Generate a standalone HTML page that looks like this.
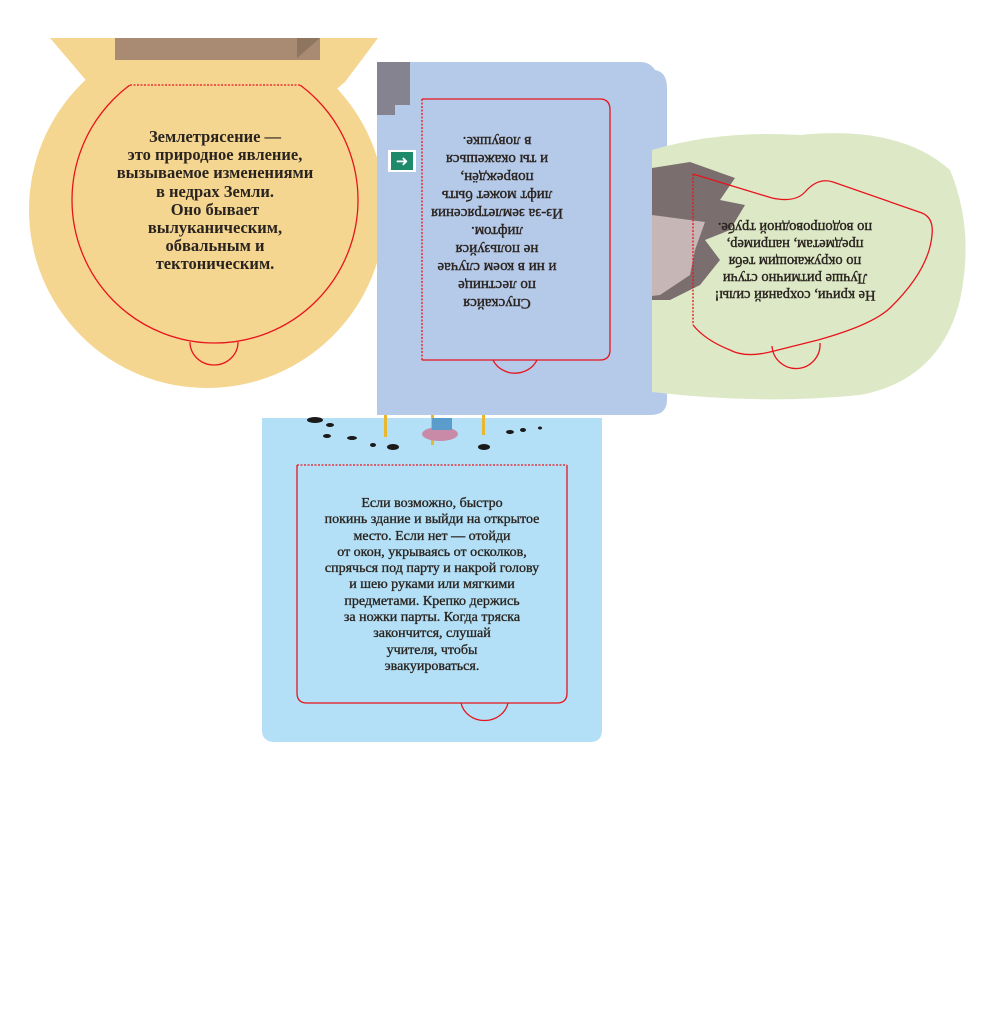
<!DOCTYPE html>
<html><head><meta charset="utf-8"><style>
html,body{margin:0;padding:0;background:#fff}
body{width:1000px;height:1031px;position:relative;overflow:hidden}
.t{position:absolute;font-family:"Liberation Serif","DejaVu Serif",serif;color:#2a2420;text-align:center;font-weight:bold}
</style></head><body>
<svg width="1000" height="1031" style="position:absolute;left:0;top:0">
<defs><clipPath id="c1"><rect x="0" y="85" width="400" height="400"/></clipPath>
<clipPath id="c2"><rect x="0" y="38" width="400" height="400"/></clipPath></defs>
<path d="M262 418 H602 V730 Q602 742 590 742 H275 Q262 742 262 730 Z" fill="#b3e0f6"/>
<g fill="#1a1a1a">
<ellipse cx="315" cy="420" rx="8" ry="3"/><ellipse cx="330" cy="425" rx="4" ry="2"/><ellipse cx="352" cy="438" rx="5" ry="2"/>
<ellipse cx="393" cy="447" rx="6" ry="3"/><ellipse cx="373" cy="445" rx="3" ry="2"/><ellipse cx="327" cy="436" rx="4" ry="2"/>
<ellipse cx="484" cy="447" rx="6" ry="3"/><ellipse cx="510" cy="432" rx="4" ry="2"/><ellipse cx="523" cy="430" rx="3" ry="2"/><ellipse cx="540" cy="428" rx="2" ry="1.5"/>
</g>
<rect x="384" y="415" width="3" height="22" fill="#e8b830"/><rect x="431" y="415" width="3" height="30" fill="#e8b830"/><rect x="482" y="415" width="3" height="20" fill="#e8b830"/>
<ellipse cx="440" cy="434" rx="18" ry="7" fill="#c98aa8"/><rect x="432" y="418" width="20" height="12" fill="#5a9ccc"/>
<circle cx="207" cy="210" r="178" fill="#f5d690" clip-path="url(#c2)"/>
<path d="M50 38 H378 L345 82 L300 120 H130 L90 85 Z" fill="#f5d690"/>
<rect x="115" y="38" width="205" height="22" fill="#a88b72"/>
<path d="M297 38 H320 L297 58Z" fill="#8e7560"/>
<path d="M377 62 H640 Q650 62 655 70 Q667 72 667 88 V400 Q667 415 650 415 H377 Z" fill="#b5c9e8"/>
<path d="M377 62 H410 V105 H395 V115 H377Z" fill="#85838f"/>
<rect x="388" y="150" width="28" height="22" fill="#fff"/><rect x="391" y="152" width="22" height="18" fill="#1d8a6a"/>
<text x="402" y="166" font-size="15" fill="#fff" text-anchor="middle" font-family="DejaVu Sans">➜</text>
<path d="M652 150 Q720 130 800 135 Q900 125 950 170 Q975 230 960 300 Q940 380 860 395 Q760 405 652 392 Z" fill="#dde9c6"/>
<path d="M652 168 L690 162 L735 178 L720 200 L745 205 L730 230 L705 240 L720 260 L700 285 L670 300 L652 300Z" fill="#7a6e6e"/>
<path d="M652 215 L705 222 L695 250 L690 275 L660 295 L652 296Z" fill="#c7b6b6"/>
<g fill="none" stroke="#e8141c" stroke-width="1.3">
<path d="M130 85 H300" stroke-dasharray="2 1.5"/>
<circle cx="215" cy="200" r="143" clip-path="url(#c1)"/>
<path d="M190 342 A24 23 0 0 0 238 342"/>
<path d="M422 99 V360" stroke-dasharray="2 1.5"/>
<path d="M422 99 H600 Q610 99 610 110 V350 Q610 360 600 360 H422"/>
<path d="M493 360 A24 22 0 0 0 537 360"/>
<path d="M693 174 V325" stroke-dasharray="2 1.5"/>
<path d="M693 174 L772 198 Q795 203 805 192 Q818 177 833 182 L922 213 Q934 218 932 235 Q929 270 890 308 Q872 325 818 340 L770 352 Q745 358 730 350 Q705 340 693 325"/>
<path d="M772 346 A24 24 0 0 0 820 343"/>
<path d="M297 465 H567" stroke-dasharray="2 1.5"/>
<path d="M297 465 V693 Q297 703 307 703 H557 Q567 703 567 693 V465"/>
<path d="M461 703 A24 22 0 0 0 508 703"/>
</g>
</svg>
<div class="t" style="left:95px;top:128px;width:240px;font-size:16.5px;line-height:18.2px">Землетрясение —<br>это природное явление,<br>вызываемое изменениями<br>в недрах Земли.<br>Оно бывает<br>вылуканическим,<br>обвальным и<br>тектоническим.</div>
<div class="t" style="left:407px;top:132px;width:180px;font-size:15px;line-height:18px;transform:rotate(180deg);font-weight:normal;-webkit-text-stroke:.4px #2a2420">Спускайся<br>по лестнице<br>и ни в коем случае<br>не пользуйся<br>лифтом.<br>Из-за землетрясения<br>лифт может быть<br>повреждён,<br>и ты окажешься<br>в ловушке.</div>
<div class="t" style="left:695px;top:218px;width:200px;font-size:14.5px;line-height:17px;transform:rotate(180deg);font-weight:normal;-webkit-text-stroke:.4px #2a2420">Не кричи, сохраняй силы!<br>Лучше ритмично стучи<br>по окружающим тебя<br>предметам, например,<br>по водопроводной трубе.</div>
<div class="t" style="left:292px;top:496px;width:280px;font-size:14px;line-height:16.3px;font-weight:normal;-webkit-text-stroke:.35px #2a2420">Если возможно, быстро<br>покинь здание и выйди на открытое<br>место. Если нет — отойди<br>от окон, укрываясь от осколков,<br>спрячься под парту и накрой голову<br>и шею руками или мягкими<br>предметами. Крепко держись<br>за ножки парты. Когда тряска<br>закончится, слушай<br>учителя, чтобы<br>эвакуироваться.</div>
</body></html>
